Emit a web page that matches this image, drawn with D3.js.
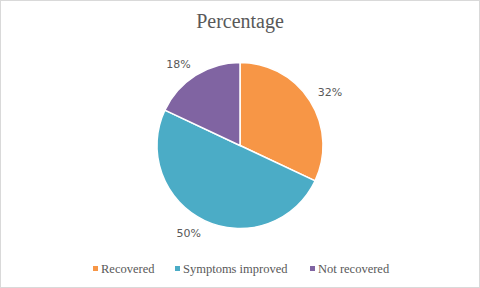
<!DOCTYPE html>
<html>
<head>
<meta charset="utf-8">
<script src="https://cdn.jsdelivr.net/npm/d3@7"></script>
<style>
  body { margin: 0; background: #fff; }
</style>
</head>
<body>
<svg id="chart"></svg>
<script>
var categories = ["Recovered", "Symptoms improved", "Not recovered"];
var values = [32, 50, 18];
var colors = ["#F79646", "#4BACC6", "#8064A2"];
var title_text = "Percentage";

var width = 480;
var height = 288;

var svg = d3.select("svg#chart")
    .attr("width", width)
    .attr("height", height);

// chart border
svg.append("rect")
    .attr("x", 0.5)
    .attr("y", 0.5)
    .attr("width", width - 1)
    .attr("height", height - 1)
    .attr("fill", "#fff")
    .attr("stroke", "#D9D9D9");

svg.append("text")
    .attr("x", width / 2)
    .attr("y", 28)
    .attr("text-anchor", "middle")
    .attr("fill", "#595959")
    .style("font-family", "'Liberation Serif', serif")
    .style("font-size", "20px")
    .text(title_text);

var cx = 240, cy = 145.5, radius = 83;

var pie = d3.pie().sort(null).value(function(d) { return d; });
var arc = d3.arc().innerRadius(0).outerRadius(radius);
// label corner sits on this ring, box pushed outward (like excel outside end)
var labelArc = d3.arc().innerRadius(92).outerRadius(92);

var g = svg.append("g").attr("transform", "translate(" + cx + "," + cy + ")");

var slices = pie(values);

g.selectAll("path")
    .data(slices)
    .enter().append("path")
    .attr("d", arc)
    .attr("fill", function(d, i) { return colors[i]; })
    .attr("stroke", "#fff")
    .attr("stroke-width", 1.5);

function midAngle(d) { return (d.startAngle + d.endAngle) / 2; }

g.selectAll("text.label")
    .data(slices)
    .enter().append("text")
    .attr("class", "label")
    .attr("x", function(d) { return labelArc.centroid(d)[0]; })
    .attr("y", function(d) {
        var p = labelArc.centroid(d);
        return Math.cos(midAngle(d)) > 0 ? p[1] : p[1] + 8.5;
    })
    .attr("text-anchor", function(d) { return Math.sin(midAngle(d)) > 0 ? "start" : "end"; })
    .attr("fill", "#595959")
    .style("font-family", "'DejaVu Sans', sans-serif")
    .style("font-size", "11px")
    .text(function(d) { return d.data + "%"; });

// legend
var legend_x = [93, 175, 310];
var legend = svg.selectAll("g.legend")
    .data(categories)
    .enter().append("g")
    .attr("class", "legend")
    .attr("transform", function(d, i) { return "translate(" + legend_x[i] + ",269)"; });

legend.append("rect")
    .attr("x", 0)
    .attr("y", -3)
    .attr("width", 5)
    .attr("height", 5)
    .attr("fill", function(d, i) { return colors[i]; });

legend.append("text")
    .attr("x", 8)
    .attr("y", 0)
    .attr("dy", "0.35em")
    .attr("fill", "#595959")
    .style("font-family", "'Liberation Serif', serif")
    .style("font-size", "12.5px")
    .text(function(d) { return d; });
</script>
</body>
</html>
